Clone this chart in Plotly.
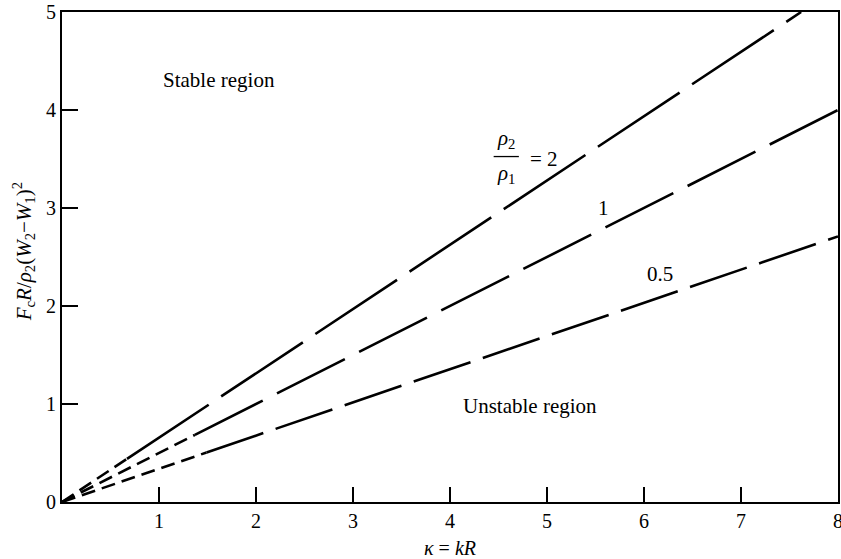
import plotly.graph_objects as go

# ---- data ----
# each curve: origin, end of the short-dash part, end of the curve
kappa_r2 = [0.0, 0.67, 7.62]
F_r2 = [0.0, 0.44, 5.0]
kappa_r1 = [0.0, 1.37, 8.0]
F_r1 = [0.0, 0.685, 4.0]
kappa_r05 = [0.0, 1.49, 8.0]
F_r05 = [0.0, 0.505, 2.71]

x_ticks = [1, 2, 3, 4, 5, 6, 7, 8]
y_ticks = [0, 1, 2, 3, 4, 5]

SERIF = "Liberation Serif"
short_dash = "14px,7px"
long_dash = {"r2": "98px,15px", "r1": "76px,16px", "r05": "60px,13px"}

fig = go.Figure()

def add_curve(xs, ys, key):
    fig.add_trace(go.Scatter(x=xs[:2], y=ys[:2], mode="lines",
                             line=dict(color="black", width=2.6, dash=short_dash),
                             showlegend=False, hoverinfo="skip"))
    fig.add_trace(go.Scatter(x=xs[1:], y=ys[1:], mode="lines",
                             line=dict(color="black", width=2.6, dash=long_dash[key]),
                             showlegend=False, hoverinfo="skip"))

add_curve(kappa_r2, F_r2, "r2")
add_curve(kappa_r1, F_r1, "r1")
add_curve(kappa_r05, F_r05, "r05")

font_txt = dict(family=SERIF, size=21, color="black")

annotations = [
    dict(x=1.62, y=4.31, text="Stable region", showarrow=False, font=font_txt),
    dict(x=4.82, y=0.98, text="Unstable region", showarrow=False, font=font_txt),
    dict(x=4.58, y=3.55, text="<i>ρ</i><sub>2</sub>", showarrow=False,
         yanchor="bottom", font=dict(family=SERIF, size=21, color="black")),
    dict(x=4.58, y=3.50, text="<i>ρ</i><sub>1</sub>", showarrow=False,
         yanchor="top", font=dict(family=SERIF, size=21, color="black")),
    dict(x=4.97, y=3.50, text="= 2", showarrow=False,
         font=dict(family=SERIF, size=21, color="black")),
    dict(x=5.58, y=3.0, text="1", showarrow=False,
         font=dict(family=SERIF, size=21, color="black")),
    dict(x=6.17, y=2.33, text="0.5", showarrow=False,
         font=dict(family=SERIF, size=21, color="black")),
    dict(xref="paper", yref="paper", x=-0.05, y=0.51, textangle=-90,
         xanchor="center", yanchor="middle",
         text="<i>F</i><sub>c</sub><i>R</i>/<i>ρ</i><sub>2</sub>(<i>W</i><sub>2</sub>−<i>W</i><sub>1</sub>)<sup>2</sup>",
         showarrow=False, font=dict(family=SERIF, size=21, color="black")),
    dict(xref="paper", yref="paper", x=0.5, y=-0.094, xanchor="center", yanchor="middle",
         text="<i>κ</i> = <i>kR</i>", showarrow=False,
         font=dict(family=SERIF, size=20, color="black")),
]

fig.update_layout(
    width=841, height=559,
    margin=dict(l=62, r=3, t=12, b=57),
    paper_bgcolor="white", plot_bgcolor="white",
    annotations=annotations,
    shapes=[dict(type="line", xref="x", yref="y", x0=4.45, x1=4.71, y0=3.525, y1=3.525,
                 line=dict(color="black", width=1.3))],
)
fig.update_xaxes(range=[0, 8], tickvals=x_ticks, ticktext=[str(v) for v in x_ticks],
                 showgrid=False, zeroline=False, showline=True, linecolor="black",
                 linewidth=2, mirror=True, ticks="inside", ticklen=15, tickwidth=1.6,
                 tickcolor="black", tickfont=dict(family=SERIF, size=20, color="black"),
                 ticklabeloverflow="allow", automargin=False)
fig.update_yaxes(range=[0, 5], tickvals=y_ticks, ticktext=[str(v) for v in y_ticks],
                 showgrid=False, zeroline=False, showline=True, linecolor="black",
                 linewidth=2, mirror=True, ticks="inside", ticklen=16, tickwidth=1.6,
                 tickcolor="black", tickfont=dict(family=SERIF, size=20, color="black"),
                 ticklabeloverflow="allow", automargin=False)

fig.write_html("out.html")
